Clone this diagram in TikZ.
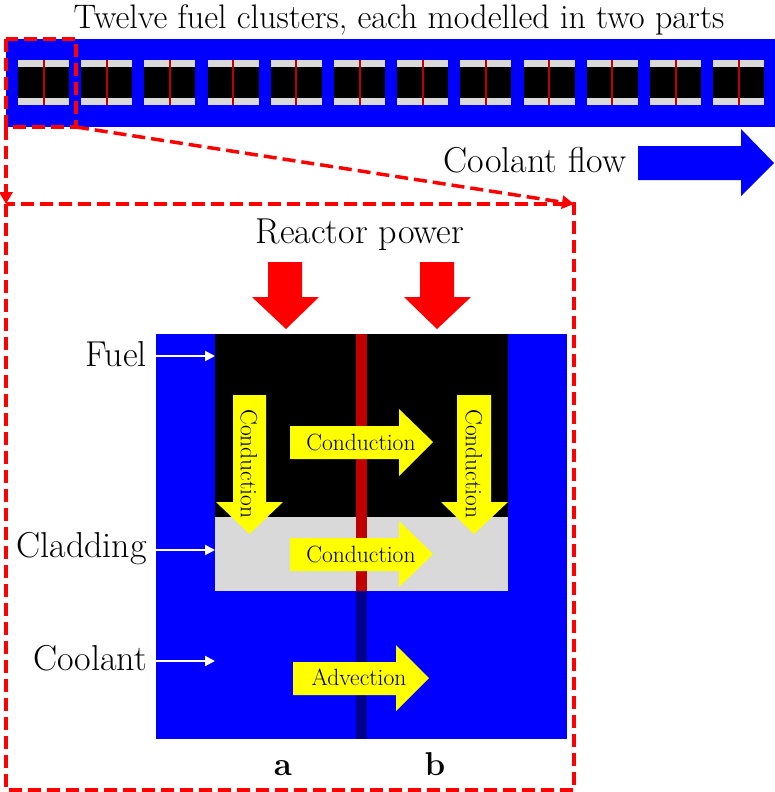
\documentclass[tikz,border=0pt]{standalone}
\usepackage{fontspec}
\usetikzlibrary{arrows.meta}
\definecolor{coolblue}{RGB}{0,0,255}
\definecolor{cladgrey}{RGB}{217,217,217}
\definecolor{splitred}{RGB}{192,0,0}
\definecolor{splitnavy}{RGB}{0,0,140}
\definecolor{powerred}{RGB}{255,0,0}
\definecolor{heatyellow}{RGB}{255,255,0}
\begin{document}
\begin{tikzpicture}[x=1pt, y=-1pt,
bigtext/.style={font=\fontsize{36}{42}\selectfont, anchor=base, inner sep=0pt},
lettertext/.style={font=\fontsize{33}{38}\selectfont\bfseries, anchor=base, inner sep=0pt},
armtext/.style={font=\fontsize{23.5}{28}\selectfont, anchor=base, inner sep=0pt},
zoombox/.style={powerred, line width=3.5pt, dash pattern=on 13pt off 6pt},
zoomline/.style={zoombox, -{Triangle[length=12pt,width=13pt]}},
pointer/.style={white, line width=2pt, -{Triangle[length=10pt,width=10pt]}}
]
\useasboundingbox (0,0) rectangle (775,792);
\node[bigtext, font=\fontsize{34}{40}\selectfont] (title) at (399,29) {Twelve fuel clusters, each modelled in two parts};
\fill[coolblue] (6,39) rectangle (775,127);
\foreach \i in {0,...,11}{
  \fill[cladgrey] (18+63.2*\i,60) rectangle +(51,45);
  \fill[black] (18+63.2*\i,67) rectangle +(51,31);
  \fill[splitred] (42.5+63.2*\i,60) rectangle +(2,45);
}
\coordinate (boxtl) at (6,39);
\coordinate (boxbl) at (6,127);
\coordinate (boxbr) at (76,127);
\coordinate (viewtl) at (6,204);
\coordinate (viewtr) at (574,204);
\coordinate (viewbr) at (574,790);
\draw[zoombox] (boxtl) rectangle (boxbr);
\draw[zoomline] (boxbl) -- (viewtl);
\draw[zoomline] (boxbr) -- (viewtr);
\draw[zoombox] (viewtl) rectangle (viewbr);
\node[bigtext] (flowlabel) at (535,172) {Coolant flow};
\fill[coolblue] (638,146) -- (741,146) -- (741,129) -- (774,163) -- (741,196) -- (741,180) -- (638,180) -- cycle;
\node[bigtext] (powerlabel) at (360,243) {Reactor power};
\fill[powerred] (268,262) -- (302,262) -- (302,297) -- (319,297) -- (286,329) -- (252,297) -- (268,297) -- cycle;
\fill[powerred] (420,262) -- (454,262) -- (454,297) -- (471,297) -- (437,329) -- (404,297) -- (420,297) -- cycle;
\fill[coolblue] (156,334) rectangle (567,739);
\fill[black] (215,334) rectangle (508,517);
\fill[cladgrey] (215,517) rectangle (508,591);
\fill[splitred] (356,334) rectangle (367,591);
\fill[splitnavy] (356,591) rectangle (367,739);
\node[bigtext, anchor=base east] (fuellabel) at (147,366) {Fuel};
\node[bigtext, anchor=base east] (cladlabel) at (147,557) {Cladding};
\node[bigtext, anchor=base east] (coollabel) at (147,670) {Coolant};
\coordinate (fuelout) at (156,356);
\coordinate (fuelin) at (215,356);
\coordinate (cladout) at (156,550);
\coordinate (cladin) at (215,550);
\coordinate (coolout) at (156,661);
\coordinate (coolin) at (215,661);
\draw[pointer] (fuelout) -- (fuelin);
\draw[pointer] (cladout) -- (cladin);
\draw[pointer] (coolout) -- (coolin);
\fill[heatyellow] (233,395) -- (266,395) -- (266,502) -- (283,502) -- (249.5,534) -- (216,502) -- (233,502) -- cycle;
\fill[heatyellow] (457,395) -- (491,395) -- (491,502) -- (508,502) -- (474,534) -- (441,502) -- (457,502) -- cycle;
\fill[heatyellow] (290,426) -- (399,426) -- (399,409) -- (433,442) -- (399,476) -- (399,459) -- (290,459) -- cycle;
\fill[heatyellow] (290,538) -- (399,538) -- (399,521) -- (433,554) -- (399,587) -- (399,571) -- (290,571) -- cycle;
\fill[heatyellow] (293,662) -- (396,662) -- (396,645) -- (429,678) -- (396,711) -- (396,695) -- (293,695) -- cycle;
\node[armtext, anchor=center, rotate=-90] (leftdown) at (249,464) {Conduction};
\node[armtext, anchor=center, rotate=-90] (rightdown) at (474,464) {Conduction};
\node[armtext] (fuelacross) at (361,450) {Conduction};
\node[armtext] (cladacross) at (361,562) {Conduction};
\node[armtext] (coolacross) at (359,685) {Advection};
\node[lettertext] (parta) at (283,775) {a};
\node[lettertext] (partb) at (435,775) {b};
\end{tikzpicture}
\end{document}
